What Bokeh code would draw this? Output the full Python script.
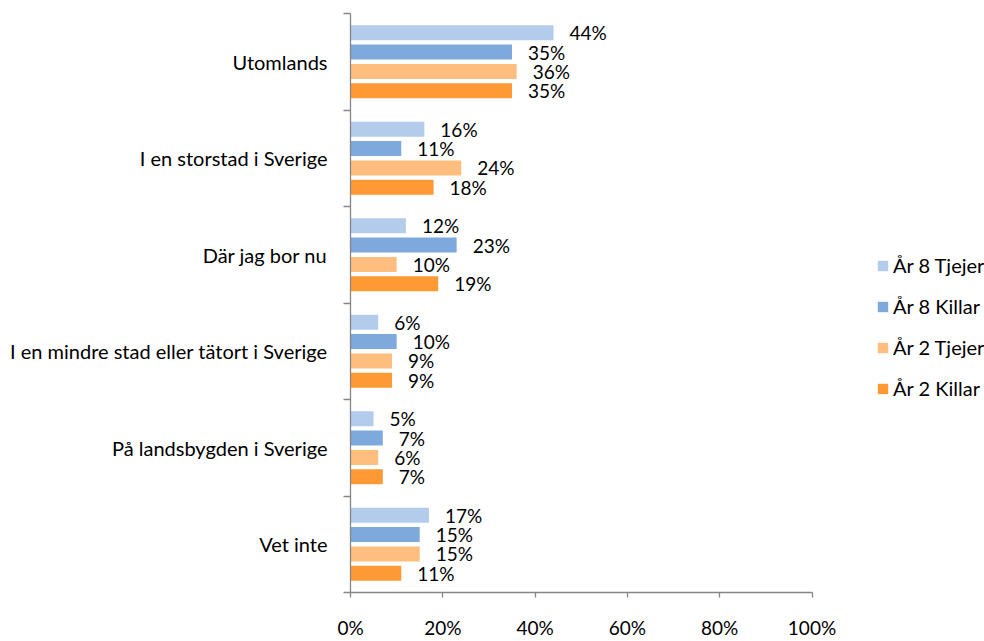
from bokeh.plotting import figure
from bokeh.models import (Range1d, FixedTicker, Legend, LegendItem,
                          ColumnDataSource, PrintfTickFormatter)
from bokeh.core.properties import value
from bokeh.embed import file_html
from bokeh.resources import INLINE

categories = ["Utomlands", "I en storstad i Sverige", "Där jag bor nu",
              "I en mindre stad eller tätort i Sverige",
              "På landsbygden i Sverige", "Vet inte"]
series = ["År 8 Tjejer", "År 8 Killar", "År 2 Tjejer", "År 2 Killar"]
ar8_tjejer = [44, 16, 12, 6, 5, 17]
ar8_killar = [35, 11, 23, 10, 7, 15]
ar2_tjejer = [36, 24, 10, 9, 6, 15]
ar2_killar = [35, 18, 19, 9, 7, 11]
x_ticks = [0, 20, 40, 60, 80, 100]
colors = ["#B4CCEB", "#7EA9DD", "#FFBE7D", "#FF9933"]

FONT = "Lato"
FS_NUM = "19px"
FS_TXT = "20px"
AXIS_COLOR = "#868686"

n = len(categories)
values_all = [ar8_tjejer, ar8_killar, ar2_tjejer, ar2_killar]

W, H = 984, 641
LEFT, TOP = 350, 13
AXIS_PX = 461.5          # pixels spanned by 0..100 %
FRAME_W = W - LEFT
FRAME_H = 580
x_end = 100 * FRAME_W / AXIS_PX   # frame extends past 100% to host the legend

p = figure(width=W, height=H, output_backend="svg", toolbar_location=None,
           x_range=Range1d(0, x_end), y_range=Range1d(0, n),
           min_border_left=LEFT, min_border_right=0,
           min_border_top=TOP, min_border_bottom=H - TOP - FRAME_H)

renderers = []
for j, (name, vals, col) in enumerate(zip(series, values_all, colors)):
    ys = [n - 0.5 - i + (1.5 - j) * 0.2 for i in range(n)]
    src = ColumnDataSource(dict(y=ys, x=vals, label=[f"{v}%" for v in vals]))
    r = p.hbar(y="y", right="x", left=0, height=0.155, source=src,
               fill_color=col, line_color=None)
    p.text(x="x", y="y", text="label", source=src, x_offset=16,
           text_align="left", text_baseline="middle",
           text_font=value(FONT), text_font_size=FS_NUM, text_color="#000000")
    renderers.append(r)

legend = Legend(items=[LegendItem(label=s, renderers=[r]) for s, r in zip(series, renderers)],
                location=(526, 192), orientation="vertical",
                glyph_width=13, glyph_height=13, label_standoff=4,
                spacing=17, label_height=20, padding=0, margin=0,
                border_line_color=None, background_fill_alpha=0,
                label_text_font=FONT, label_text_font_size=FS_TXT,
                label_text_color="#000000")
p.add_layout(legend, "center")

xa = p.xaxis[0]
xa.bounds = (0, 100)
xa.ticker = FixedTicker(ticks=x_ticks)
xa.formatter = PrintfTickFormatter(format="%d%%")
xa.major_tick_out = 5
xa.major_tick_in = 0
xa.minor_tick_out = 0
xa.minor_tick_in = 0
xa.axis_line_color = AXIS_COLOR
xa.major_tick_line_color = AXIS_COLOR
xa.axis_line_width = 1.3
xa.major_tick_line_width = 1.3
xa.major_label_standoff = 18
xa.major_label_text_font = FONT
xa.major_label_text_font_size = FS_NUM
xa.major_label_text_color = "#000000"

ya = p.yaxis[0]
centers = [n - 0.5 - i for i in range(n)]
ya.ticker = FixedTicker(ticks=centers, minor_ticks=list(range(n + 1)))
ya.major_label_overrides = {c: cat for c, cat in zip(centers, categories)}
ya.major_tick_out = 0
ya.major_tick_in = 0
ya.minor_tick_out = 7
ya.minor_tick_in = 0
ya.axis_line_color = AXIS_COLOR
ya.minor_tick_line_color = AXIS_COLOR
ya.axis_line_width = 1.3
ya.minor_tick_line_width = 1.3
ya.major_label_standoff = 16
ya.major_label_text_font = FONT
ya.major_label_text_font_size = FS_TXT
ya.major_label_text_color = "#000000"

p.xgrid.visible = False
p.ygrid.visible = False
p.outline_line_color = None

open("out.html", "w").write(file_html(p, INLINE))
